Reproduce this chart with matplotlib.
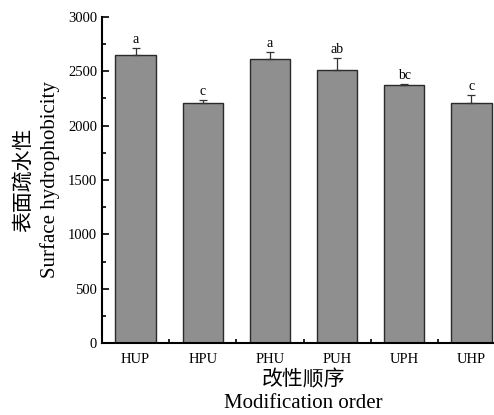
import matplotlib
matplotlib.use("Agg")
import matplotlib.pyplot as plt
from matplotlib.ticker import MultipleLocator

orders = ["HUP", "HPU", "PHU", "PUH", "UPH", "UHP"]
values = [2650, 2208, 2613, 2512, 2373, 2208]
errors = [65, 27, 64, 110, 10, 73]
letters = ["a", "c", "a", "ab", "bc", "c"]

fonts = ["Liberation Serif", "Noto Sans CJK SC"]
plt.rcParams["font.family"] = fonts

fig = plt.figure(figsize=(4.94, 4.15), dpi=100)
ax = fig.add_axes([102 / 494, 72 / 415, 403 / 494, 326 / 415])

x = list(range(len(orders)))
ax.bar(x, values, width=0.6, color="#8f8f8f", edgecolor="#2a2a2a", linewidth=1.0, zorder=2)
ax.errorbar(x, values, yerr=[[0] * len(errors), errors], fmt="none",
            ecolor="#333333", elinewidth=0.9, capsize=3, capthick=0.9, zorder=3)
for xi, v, e, t in zip(x, values, errors, letters):
    ax.text(xi, v + e + 20, t, ha="center", va="bottom", fontsize=10)

ax.set_xlim(-0.5, 5.5)
ax.set_ylim(0, 3000)
ax.set_xticks(x)
ax.set_xticklabels(orders)
ax.xaxis.set_minor_locator(plt.FixedLocator([i + 0.5 for i in x]))
ax.yaxis.set_major_locator(MultipleLocator(500))
ax.yaxis.set_minor_locator(MultipleLocator(250))
ax.tick_params(which="both", direction="in", width=1.2, labelsize=10.5)
ax.tick_params(which="major", length=5)
ax.tick_params(which="minor", length=3)
ax.tick_params(axis="x", pad=7)

for s in ["top", "right"]:
    ax.spines[s].set_visible(False)
for s in ["left", "bottom"]:
    ax.spines[s].set_linewidth(1.5)

ax.set_xlabel("改性顺序\nModification order", fontsize=15, linespacing=1.3, labelpad=3)
ax.set_ylabel("表面疏水性\nSurface hydrophobicity", fontsize=15, linespacing=1.35, labelpad=6)

fig.savefig("out.png", dpi=100)
